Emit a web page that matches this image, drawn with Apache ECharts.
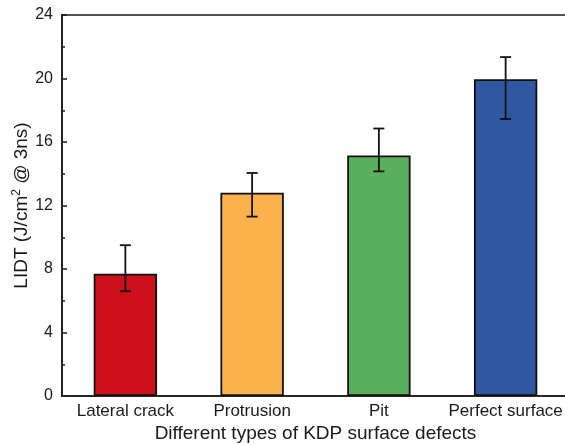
<!DOCTYPE html>
<html>
<head>
<meta charset="utf-8">
<script src="https://cdn.jsdelivr.net/npm/echarts@6/dist/echarts.min.js"></script>
<style>html,body{margin:0;padding:0;background:#fff}#c{width:565px;height:445px}</style>
</head>
<body>
<div id="c"></div>
<script>
const categories = ['Lateral crack', 'Protrusion', 'Pit', 'Perfect surface'];
const lidt = [7.7, 12.8, 15.15, 19.95];
const errLow = [6.6, 11.3, 14.15, 17.45];
const errHigh = [9.5, 14.05, 16.85, 21.35];
const barColors = ['#CC111A', '#FCB24C', '#5BAE5C', '#2F58A1'];
const yTicks = [0, 4, 8, 12, 16, 20, 24];

const chart = echarts.init(document.getElementById('c'));
const font = 'Liberation Sans, Arial, sans-serif';
chart.setOption({
  animation: false,
  backgroundColor: '#fff',
  grid: { left: 62, top: 15, width: 507, bottom: 49, outerBoundsMode: 'none', containLabel: false, show: true, borderColor: '#1a1a1a', borderWidth: 1.6, backgroundColor: 'transparent' },
  xAxis: [{
    type: 'category',
    data: categories,
    axisLine: { lineStyle: { color: '#1a1a1a', width: 1.6 } },
    axisTick: { inside: true, alignWithLabel: true, length: 5, lineStyle: { color: '#1a1a1a', width: 1.5 } },
    axisLabel: { color: '#1a1a1a', fontSize: 17, fontFamily: font, margin: 7, interval: 0, hideOverlap: false },
    name: 'Different types of KDP surface defects',
    nameLocation: 'middle',
    nameGap: 28,
    nameMoveOverlap: false,
    nameTextStyle: { color: '#1a1a1a', fontSize: 19, fontFamily: font }
  }, {
    type: 'category',
    data: categories,
    position: 'bottom',
    axisLine: { show: false },
    axisTick: { inside: true, alignWithLabel: false, interval: 0, length: 3, lineStyle: { color: '#1a1a1a', width: 1.5 } },
    axisLabel: { show: false }
  }],
  yAxis: {
    type: 'value',
    min: yTicks[0],
    max: yTicks[yTicks.length - 1],
    interval: 4,
    axisLine: { show: true, lineStyle: { color: '#1a1a1a', width: 1.6 } },
    axisTick: { show: true, inside: true, length: 5, lineStyle: { color: '#1a1a1a', width: 1.5 } },
    minorTick: { show: true, splitNumber: 2, length: 3, lineStyle: { color: '#1a1a1a', width: 1.5 } },
    splitLine: { show: false },
    axisLabel: { color: '#1a1a1a', fontSize: 16, fontFamily: font, margin: 9 },
    name: '{a|LIDT (J/cm}{s|2}{a| @ 3ns)}',
    nameLocation: 'middle',
    nameRotate: 90,
    nameGap: 29,
    nameMoveOverlap: false,
    nameTextStyle: {
      color: '#1a1a1a', fontFamily: font,
      rich: {
        a: { fontSize: 19, fontFamily: font, color: '#1a1a1a' },
        s: { fontSize: 12, fontFamily: font, color: '#1a1a1a', verticalAlign: 'bottom', padding: [0, 0, 10, 0] }
      }
    }
  },
  series: [{
    type: 'bar',
    barWidth: '50%',
    data: lidt.map((v, i) => ({ value: v, itemStyle: { color: barColors[i] } })),
    itemStyle: { borderColor: '#111', borderWidth: 1.8 },
    z: 2
  }, {
    type: 'custom',
    data: lidt.map((v, i) => [i, errLow[i], errHigh[i]]),
    renderItem: function (params, api) {
      const x = api.value(0);
      const lo = api.coord([x, api.value(1)]);
      const hi = api.coord([x, api.value(2)]);
      const hw = 5.5;
      const style = { stroke: '#111', lineWidth: 1.8 };
      return {
        type: 'group',
        children: [
          { type: 'line', shape: { x1: lo[0], y1: lo[1], x2: hi[0], y2: hi[1] }, style: style },
          { type: 'line', shape: { x1: hi[0] - hw, y1: hi[1], x2: hi[0] + hw, y2: hi[1] }, style: style },
          { type: 'line', shape: { x1: lo[0] - hw, y1: lo[1], x2: lo[0] + hw, y2: lo[1] }, style: style }
        ]
      };
    },
    z: 3
  }]
});
</script>
</body>
</html>
